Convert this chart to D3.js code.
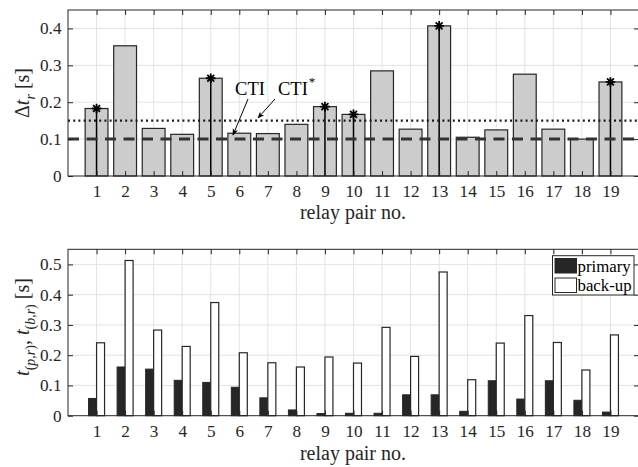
<!DOCTYPE html>
<html><head><meta charset="utf-8">
<script src="https://cdn.jsdelivr.net/npm/d3@7"></script>
<style>
body{margin:0;background:#fff;}
svg{display:block;font-family:"Liberation Serif","Times New Roman",serif;}
</style></head>
<body>
<script>
// ---- data ----
const categories = d3.range(1, 20);
const deltaT = [0.183,0.353,0.129,0.113,0.265,0.116,0.115,0.140,0.188,0.167,0.285,0.127,0.407,0.105,0.125,0.276,0.127,0.100,0.255];
const starred = [1,5,9,10,13,19];
const cti = 0.1;
const ctiStar = 0.15;
const primary = [0.057,0.161,0.154,0.117,0.110,0.094,0.059,0.019,0.007,0.008,0.008,0.069,0.069,0.0145,0.1155,0.055,0.1155,0.051,0.012];
const backup  = [0.241,0.513,0.283,0.229,0.374,0.208,0.175,0.161,0.194,0.174,0.292,0.196,0.475,0.119,0.240,0.331,0.242,0.151,0.267];
const topTicks = [0,0.1,0.2,0.3,0.4];
const botTicks = [0,0.1,0.2,0.3,0.4,0.5];
const legendLabels = ["primary","back-up"];

const W = 638, H = 467;
const svg = d3.select("body").append("svg").attr("width", W).attr("height", H);
const axCol = "#262626", gridCol = "#e3e3e3";
const FS = 17.2, LFS = 20;

const x = d3.scaleLinear().domain([0, 20]).range([68, 639]);
const yTop = d3.scaleLinear().domain([0, 0.45]).range([176, 10]);
const yBot = d3.scaleLinear().domain([0, 0.55]).range([415.7, 249.3]);

function frame(y, ticks) {
  const g = svg.append("g");
  const [y0, y1] = y.range();
  g.selectAll(".gx").data(categories).join("line")
    .attr("x1", d => x(d)).attr("x2", d => x(d)).attr("y1", y0).attr("y2", y1)
    .attr("stroke", gridCol).attr("stroke-width", 1);
  g.selectAll(".gy").data(ticks.filter(t => t > 0)).join("line")
    .attr("x1", x(0)).attr("x2", x(20)).attr("y1", d => y(d)).attr("y2", d => y(d))
    .attr("stroke", gridCol).attr("stroke-width", 1);
  return g;
}

function axes(y, ticks) {
  const [y0, y1] = y.range();
  const g = svg.append("g");
  const ax = g.append("g").attr("transform", `translate(0,${y0})`)
    .call(d3.axisBottom(x).tickValues(categories).tickSize(-5).tickPadding(9).tickFormat(d3.format("d")));
  ax.select(".domain").remove();
  const at = g.append("g").attr("transform", `translate(0,${y1})`)
    .call(d3.axisTop(x).tickValues(categories).tickSize(-5).tickFormat(""));
  at.select(".domain").remove();
  const ay = g.append("g").attr("transform", `translate(${x(0)},0)`)
    .call(d3.axisLeft(y).tickValues(ticks).tickSize(-5).tickPadding(6.5).tickFormat(d => d === 0 ? "0" : d3.format(".1f")(d)));
  ay.select(".domain").remove();
  const ar = g.append("g").attr("transform", `translate(${x(20)},0)`)
    .call(d3.axisRight(y).tickValues(ticks).tickSize(-5).tickFormat(""));
  ar.select(".domain").remove();
  g.selectAll("g").attr("font-size", FS).attr("font-family", "Liberation Serif");
  g.selectAll(".tick line").attr("stroke", axCol);
  g.selectAll(".tick text").attr("font-size", FS).attr("fill", axCol).attr("font-family", "Liberation Serif");
  g.append("rect").attr("x", x(0)).attr("y", y1).attr("width", x(20) - x(0)).attr("height", y0 - y1)
    .attr("fill", "none").attr("stroke", axCol).attr("stroke-width", 1);
  return g;
}

// ---------- top chart ----------
frame(yTop, topTicks);
const bw = 0.8;
svg.append("g").selectAll("rect").data(categories).join("rect")
  .attr("x", d => x(d - bw / 2)).attr("width", x(bw) - x(0))
  .attr("y", (d, i) => yTop(deltaT[i])).attr("height", (d, i) => yTop(0) - yTop(deltaT[i]))
  .attr("fill", "#cccccc").attr("stroke", axCol).attr("stroke-width", 1.2);

const stemG = svg.append("g");
stemG.selectAll("line").data(starred).join("line")
  .attr("x1", d => x(d)).attr("x2", d => x(d))
  .attr("y1", yTop(0)).attr("y2", d => yTop(deltaT[d - 1]))
  .attr("stroke", "#000").attr("stroke-width", 1.5);
const r = 4.8, rd = r * 0.72;
stemG.selectAll("path").data(starred).join("path")
  .attr("transform", d => `translate(${x(d)},${yTop(deltaT[d - 1])})`)
  .attr("d", `M${-r},0H${r}M0,${-r}V${r}M${-rd},${-rd}L${rd},${rd}M${-rd},${rd}L${rd},${-rd}`)
  .attr("stroke", "#000").attr("stroke-width", 1.8).attr("fill", "none");

svg.append("line").attr("x1", x(0)).attr("x2", x(20)).attr("y1", yTop(ctiStar)).attr("y2", yTop(ctiStar))
  .attr("stroke", "#1a1a1a").attr("stroke-width", 2.2).attr("stroke-dasharray", "2,3.2");
svg.append("line").attr("x1", x(0)).attr("x2", x(20)).attr("y1", yTop(cti)).attr("y2", yTop(cti))
  .attr("stroke", "#333").attr("stroke-width", 3).attr("stroke-dasharray", "11,7.5");

axes(yTop, topTicks);

const defs = svg.append("defs");
defs.append("marker").attr("id", "ah").attr("viewBox", "0 0 10 10").attr("refX", 9).attr("refY", 5)
  .attr("markerWidth", 7).attr("markerHeight", 7).attr("orient", "auto")
  .append("path").attr("d", "M0,1L10,5L0,9L3,5Z").attr("fill", "#000");
svg.append("line").attr("x1", 248).attr("y1", 99).attr("x2", 233).attr("y2", 135)
  .attr("stroke", "#000").attr("stroke-width", 1).attr("marker-end", "url(#ah)");
svg.append("line").attr("x1", 275).attr("y1", 99).attr("x2", 258).attr("y2", 118)
  .attr("stroke", "#000").attr("stroke-width", 1).attr("marker-end", "url(#ah)");
svg.append("text").attr("x", 250).attr("y", 95).attr("text-anchor", "middle").attr("font-size", 18.5).attr("fill", "#000").text("CTI");
const cs = svg.append("text").attr("x", 278).attr("y", 95).attr("font-size", 18.5).attr("fill", "#000");
cs.append("tspan").text("CTI");
cs.append("tspan").attr("dy", -9).attr("dx", 1).attr("font-size", 13).text("*");

svg.append("text").attr("x", 353).attr("y", 218.5).attr("text-anchor", "middle").attr("font-size", LFS).attr("fill", axCol).text("relay pair no.");
const yl1 = svg.append("text").attr("transform", "translate(29,93) rotate(-90)").attr("text-anchor", "middle")
  .attr("font-size", LFS).attr("fill", axCol);
yl1.append("tspan").text("Δ");
yl1.append("tspan").attr("font-style", "italic").text("t");
yl1.append("tspan").attr("font-style", "italic").attr("font-size", 14).attr("dy", 6).text("r");
yl1.append("tspan").attr("dy", -6).text(" [s]");

// ---------- bottom chart ----------
frame(yBot, botTicks);
const gw = 0.28;
const bg = svg.append("g");
bg.selectAll(".p").data(categories).join("rect")
  .attr("x", d => x(d - gw)).attr("width", x(gw) - x(0))
  .attr("y", (d, i) => yBot(primary[i])).attr("height", (d, i) => yBot(0) - yBot(primary[i]))
  .attr("fill", "#262626").attr("stroke", axCol).attr("stroke-width", 1);
bg.selectAll(".b").data(categories).join("rect")
  .attr("x", d => x(d)).attr("width", x(gw) - x(0))
  .attr("y", (d, i) => yBot(backup[i])).attr("height", (d, i) => yBot(0) - yBot(backup[i]))
  .attr("fill", "#fff").attr("stroke", axCol).attr("stroke-width", 1.2);

axes(yBot, botTicks);

const lg = svg.append("g");
lg.append("rect").attr("x", 552.5).attr("y", 255.7).attr("width", 81.5).attr("height", 39.3)
  .attr("fill", "#fff").attr("stroke", axCol).attr("stroke-width", 1);
const lfills = ["#262626", "#fff"];
legendLabels.forEach((t, i) => {
  lg.append("rect").attr("x", 555).attr("y", 258.5 + i * 19.5).attr("width", 21.5).attr("height", 14.5)
    .attr("fill", lfills[i]).attr("stroke", axCol).attr("stroke-width", 1);
  lg.append("text").attr("x", 577.5).attr("y", 271.5 + i * 19.5).attr("font-size", 16.8).attr("fill", "#000").text(t);
});

svg.append("text").attr("x", 353).attr("y", 459.5).attr("text-anchor", "middle").attr("font-size", LFS).attr("fill", axCol).text("relay pair no.");
const yl2 = svg.append("text").attr("transform", "translate(29,327) rotate(-90)").attr("text-anchor", "middle")
  .attr("font-size", LFS).attr("fill", axCol);
yl2.append("tspan").attr("font-style", "italic").text("t");
yl2.append("tspan").attr("font-size", 14).attr("dy", 6).html("(<tspan font-style='italic'>p</tspan>,<tspan font-style='italic'>r</tspan>)");
yl2.append("tspan").attr("dy", -6).text(", ");
yl2.append("tspan").attr("font-style", "italic").text("t");
yl2.append("tspan").attr("font-size", 14).attr("dy", 6).html("(<tspan font-style='italic'>b</tspan>,<tspan font-style='italic'>r</tspan>)");
yl2.append("tspan").attr("dy", -6).text(" [s]");
</script>
</body></html>
